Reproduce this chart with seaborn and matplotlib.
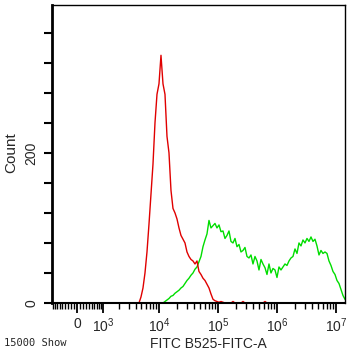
import numpy as np
import pandas as pd
import matplotlib
matplotlib.use("Agg")
import matplotlib.pyplot as plt
import seaborn as sns
from matplotlib.ticker import FixedLocator, FixedFormatter

# =========================
# Data (histogram counts)
# =========================
# channel grid: 106 bins, equally spaced on the logicle-like display scale
LIN_W = 817                      # width of the linear part of the asinh scale
grid_start = 60 / 59             # in display decades
grid_step = 2 / 59
n_bins = 106

red_counts = [
    0, 0, 8, 20, 40, 68, 105, 145, 185, 240,
    278, 292, 330, 292, 278, 222, 200, 150, 126, 120,
    112, 100, 90, 85, 80, 68, 62, 58, 56, 52,
    56, 42, 38, 33, 30, 25, 20, 12, 5, 3,
    2, 1, 2, 1, 0, 0, 0, 0, 2, 0,
    0, 0, 0, 2, 0, 0, 0, 0, 0, 0,
    0, 0, 0, 0, 2, 0, 0, 0, 0, 0,
    0, 0, 0, 0, 0, 0, 0, 0, 0, 0,
    0, 0, 0, 0, 0, 0, 0, 0, 0, 0,
    0, 0, 0, 0, 0, 0, 0, 0, 0, 0,
    0, 0, 0, 0, 0, 0,
]

green_counts = [
    0, 0, 0, 0, 0, 0, 0, 0, 0, 0,
    0, 0, 0, 0, 2, 4, 6, 9, 10, 13,
    15, 17, 20, 22, 26, 30, 33, 37, 40, 45,
    48, 55, 62, 75, 84, 92, 110, 100, 103, 106,
    100, 104, 95, 96, 86, 90, 96, 82, 80, 86,
    75, 78, 68, 70, 74, 62, 60, 64, 52, 62,
    56, 44, 58, 52, 47, 38, 52, 40, 46, 44,
    34, 48, 44, 48, 52, 50, 56, 60, 62, 72,
    66, 80, 76, 84, 80, 86, 82, 88, 82, 85,
    76, 64, 70, 66, 68, 66, 56, 50, 42, 38,
    30, 26, 18, 10, 5, 3,
]

sample_names = ['Isotype', 'Stained']
sample_colors = ['#e00000', '#00dd00']

x_major = [0, 1e3, 1e4, 1e5, 1e6, 1e7]
x_major_labels = ['0', r'$\mathregular{10^3}$', r'$\mathregular{10^4}$',
                  r'$\mathregular{10^5}$', r'$\mathregular{10^6}$', r'$\mathregular{10^7}$']
y_ticks = [0, 40, 80, 120, 160, 200, 240, 280, 320, 360]
y_tick_labels = ['0', '', '', '', '', '200', '', '', '', '']

x_label = 'FITC B525-FITC-A'
y_label = 'Count'
footer = '15000 Show'

# =========================
# Build long table
# =========================
decades = grid_start + grid_step * np.arange(n_bins)
channel = LIN_W * np.sinh(decades * np.log(10))

df = pd.concat([
    pd.DataFrame({'fl': channel, 'count': green_counts, 'sample': sample_names[1]}),
    pd.DataFrame({'fl': channel, 'count': red_counts, 'sample': sample_names[0]}),
])

# =========================
# Plot
# =========================
sns.set_style('ticks')
plt.rcParams['font.family'] = ['Liberation Sans', 'DejaVu Sans']

fig = plt.figure(figsize=(3.55, 3.53), dpi=100)
ax = fig.add_axes([52 / 355, 50 / 353, 293 / 355, 298 / 353])

sns.lineplot(
    data=df, x='fl', y='count', hue='sample',
    hue_order=[sample_names[1], sample_names[0]],
    palette={sample_names[0]: sample_colors[0], sample_names[1]: sample_colors[1]},
    estimator=None, sort=False, lw=1.0, legend=False, ax=ax,
)

ax.set_xscale('asinh', linear_width=LIN_W)
ax.set_xlim(-929, 1.425e7)
ax.set_ylim(0, 397)

# x ticks
minor = [-k * 100 for k in range(1, 10)] + [k * 100 for k in range(1, 10)]
for p in range(3, 7):
    minor += [k * 10 ** p for k in range(2, 10)]
ax.xaxis.set_major_locator(FixedLocator(x_major))
ax.xaxis.set_major_formatter(FixedFormatter(x_major_labels))
ax.xaxis.set_minor_locator(FixedLocator(minor))
ax.tick_params(axis='x', which='major', length=7, width=1.3, pad=3,
               labelsize=10, color='black')
ax.tick_params(axis='x', which='minor', length=4, width=1.0, color='black')

# y ticks
ax.yaxis.set_major_locator(FixedLocator(y_ticks))
ax.yaxis.set_major_formatter(FixedFormatter(y_tick_labels))
ax.yaxis.set_minor_locator(FixedLocator([]))
ax.tick_params(axis='y', which='major', length=6, width=1.5, pad=4,
               labelsize=10, color='black')
for lab in ax.get_yticklabels():
    lab.set_rotation(90)
    lab.set_va('center')

ax.set_xlabel('')
ax.set_ylabel('')

# spines
for side, lw in [('left', 2.0), ('bottom', 1.5), ('top', 1.0), ('right', 1.0)]:
    ax.spines[side].set_visible(True)
    ax.spines[side].set_linewidth(lw)
    ax.spines[side].set_color('black')

# texts
fig.text(208 / 355, 1 - 344 / 353, x_label, ha='center', va='center', fontsize=10)
fig.text(11 / 355, 1 - 153 / 353, y_label, ha='center', va='center',
         rotation=90, fontsize=11)
fig.text(4 / 355, 1 - 343 / 353, footer, ha='left', va='center',
         fontsize=7.5, family='DejaVu Sans Mono')

fig.savefig('out.png', dpi=100)
